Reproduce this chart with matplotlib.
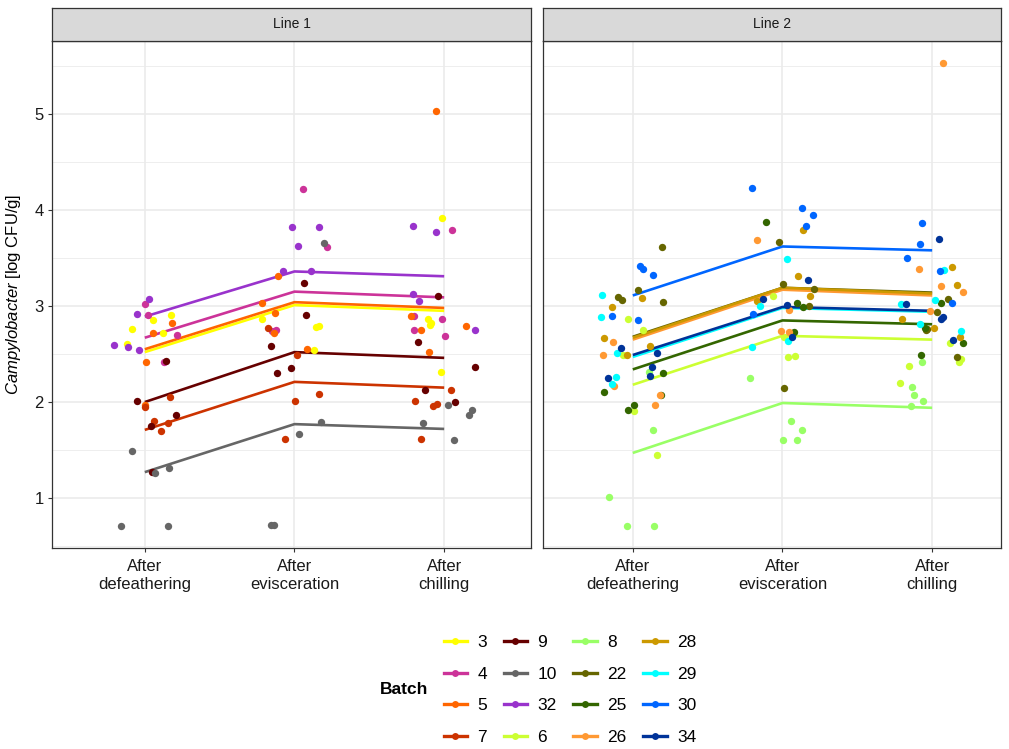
import matplotlib
matplotlib.use("Agg")
import matplotlib.pyplot as plt
from matplotlib.lines import Line2D
import numpy as np

plt.rcParams["font.family"] = ["Liberation Sans", "DejaVu Sans"]
plt.rcParams["mathtext.fontset"] = "custom"
plt.rcParams["mathtext.it"] = "Liberation Sans:italic"
plt.rcParams["mathtext.rm"] = "Liberation Sans"

stages = ["After\ndefeathering", "After\nevisceration", "After\nchilling"]
panels = ["Line 1", "Line 2"]

batches_line1 = ["3", "4", "5", "7", "9", "10", "32"]
batches_line2 = ["6", "8", "22", "25", "26", "28", "29", "30", "34"]
legend_order = ["3", "4", "5", "7", "9", "10", "32", "6",
                "8", "22", "25", "26", "28", "29", "30", "34"]

# fitted values per batch (stage 1, 2, 3)
fit_line1 = {
    "3": [2.52, 3.01, 2.95],
    "4": [2.67, 3.15, 3.09],
    "5": [2.55, 3.04, 2.98],
    "7": [1.71, 2.21, 2.15],
    "9": [2.00, 2.52, 2.46],
    "10": [1.27, 1.77, 1.72],
    "32": [2.89, 3.36, 3.31],
}
fit_line2 = {
    "6": [2.18, 2.69, 2.65],
    "8": [1.47, 1.99, 1.94],
    "22": [2.68, 3.19, 3.14],
    "25": [2.34, 2.85, 2.81],
    "26": [2.65, 3.17, 3.11],
    "28": [2.67, 3.19, 3.13],
    "29": [2.47, 2.98, 2.94],
    "30": [3.11, 3.62, 3.58],
    "34": [2.49, 2.99, 2.95],
}

# observed log CFU/g per batch, one list per stage
obs_line1 = {
    "3": [[2.85, 2.91, 2.72, 2.60, 2.76], [2.79, 2.87, 2.78, 2.54], [3.92, 2.82, 2.80, 2.87, 2.31]],
    "4": [[3.02, 2.91, 2.70, 2.42], [4.22, 3.61, 2.75, 2.74], [3.79, 2.90, 2.75, 2.69, 2.86]],
    "5": [[2.82, 2.72, 2.42, 1.97], [3.31, 3.03, 2.72, 2.55, 2.93], [5.03, 2.90, 2.79, 2.75, 2.52]],
    "7": [[2.05, 1.95, 1.78, 1.80, 1.70], [2.77, 2.49, 2.01, 2.08, 1.61], [2.13, 2.01, 1.98, 1.96, 1.61]],
    "9": [[2.43, 2.01, 1.86, 1.75, 1.27], [3.24, 2.91, 2.58, 2.35, 2.30], [3.10, 2.63, 2.36, 2.13, 2.00]],
    "10": [[1.49, 1.31, 1.26, 0.71, 0.71], [3.66, 1.79, 1.67, 0.72, 0.72], [1.92, 1.97, 1.78, 1.87, 1.60]],
    "32": [[3.07, 2.92, 2.54, 2.57, 2.59], [3.82, 3.82, 3.62, 3.36, 3.36], [3.83, 3.77, 3.13, 3.05, 2.75]],
}
obs_line2 = {
    "6": [[2.75, 2.86, 1.91, 1.45, 2.49], [2.47, 2.48, 3.10, 2.68], [2.62, 2.42, 2.38, 2.45, 2.20]],
    "8": [[2.31, 1.71, 1.01, 0.71, 0.71], [2.25, 1.80, 1.71, 1.60, 1.60], [2.07, 2.16, 2.01, 1.96, 2.42]],
    "22": [[3.61, 3.17, 3.06, 3.09, 3.04], [3.67, 3.18, 3.23, 2.15, 3.00], [3.07, 2.94, 2.76, 2.47, 2.75]],
    "25": [[2.07, 2.10, 1.92, 1.97, 2.30], [3.88, 2.99, 2.73, 3.03], [3.03, 2.62, 2.49, 2.77]],
    "26": [[2.63, 2.49, 2.17, 2.07, 1.97], [3.69, 2.73, 2.74, 2.96], [5.53, 3.39, 3.15, 2.95, 3.21]],
    "28": [[3.08, 2.99, 2.67, 2.49, 2.58], [3.79, 3.31, 3.05, 3.10], [3.41, 3.22, 2.77, 2.68, 2.86]],
    "29": [[3.11, 2.89, 2.51, 2.26, 2.19], [3.49, 2.57, 2.64, 3.00], [3.37, 3.02, 2.81, 2.74, 3.06]],
    "30": [[3.32, 3.39, 3.42, 2.90, 2.85], [4.23, 4.02, 3.95, 3.83, 2.92], [3.86, 3.65, 3.50, 3.36, 3.03]],
    "34": [[2.56, 2.51, 2.36, 2.25, 2.27], [3.27, 3.07, 3.01, 2.68], [3.70, 3.02, 2.89, 2.86, 2.65]],
}

colors = {
    "3": "#FFFF00", "4": "#CC3399", "5": "#FF6600", "7": "#CC3300",
    "9": "#660000", "10": "#666666", "32": "#9933CC",
    "6": "#CCFF33", "8": "#99FF66", "22": "#666600", "25": "#336600",
    "26": "#FF9933", "28": "#CC9900", "29": "#00FFFF", "30": "#0066FF",
    "34": "#003399",
}

W, H = 1009, 749
fig = plt.figure(figsize=(W / 100, H / 100), dpi=100)
rng = np.random.default_rng(7)


def px_axes(x0, y0, x1, y1):
    return fig.add_axes([x0 / W, 1 - y1 / H, (x1 - x0) / W, (y1 - y0) / H])


def draw_panel(ax, batches, fits, obs, xlim):
    xs = np.arange(1, 4)
    for b in batches:
        ax.plot(xs, fits[b], color=colors[b], lw=1.9, zorder=2, solid_capstyle="butt")
    for b in batches:
        for i, vals in enumerate(obs[b]):
            jit = rng.uniform(-0.22, 0.22, len(vals))
            ax.scatter(xs[i] + jit, vals, s=28, color=colors[b], linewidths=0, zorder=3)
    ax.set_xlim(*xlim)
    ax.set_ylim(0.48, 5.76)
    ax.set_xticks(xs)
    ax.set_xticklabels(stages, fontsize=12, color="#1A1A1A", linespacing=1.2)
    ax.set_yticks([1, 2, 3, 4, 5])
    ax.set_yticks([0.5, 1.5, 2.5, 3.5, 4.5, 5.5], minor=True)
    ax.grid(True, which="major", color="#EBEBEB", lw=1.2)
    ax.grid(True, which="minor", axis="y", color="#EBEBEB", lw=0.6)
    ax.set_axisbelow(True)
    for s in ax.spines.values():
        s.set_color("#333333")
        s.set_linewidth(0.9)
    ax.tick_params(axis="both", which="major", length=3, color="#333333", width=0.8, pad=3)
    ax.tick_params(axis="x", which="major", pad=5)
    ax.tick_params(axis="y", which="minor", length=0)


ax1 = px_axes(52, 41, 531, 548)
ax2 = px_axes(543, 41, 1001, 548)
draw_panel(ax1, batches_line1, fit_line1, obs_line1, (0.38, 3.58))
draw_panel(ax2, batches_line2, fit_line2, obs_line2, (0.40, 3.46))
ax1.set_yticklabels(["1", "2", "3", "4", "5"], fontsize=12, color="#1A1A1A")
ax2.tick_params(axis="y", left=False, labelleft=False)
ax1.set_ylabel(r"$\it{Campylobacter}$ [log CFU/g]", fontsize=12, labelpad=8)

# facet strips
for (x0, x1), name in zip([(52, 531), (543, 1001)], panels):
    st = px_axes(x0, 8, x1, 41)
    st.set_facecolor("#D9D9D9")
    st.set_xticks([])
    st.set_yticks([])
    for s in st.spines.values():
        s.set_color("#333333")
        s.set_linewidth(0.9)
    st.text(0.5, 0.5, name, ha="center", va="center", fontsize=10, color="#1A1A1A",
            transform=st.transAxes)

handles = [Line2D([0], [0], color=colors[b], lw=2.4, marker="o", markersize=5,
                  markeredgewidth=0) for b in legend_order]
fig.legend(handles, legend_order, ncol=4, loc="center", bbox_to_anchor=(570 / W, 1 - 690 / H),
           frameon=False, fontsize=12.5, handlelength=1.35, handletextpad=0.6,
           columnspacing=0.95, labelspacing=0.95)
fig.text(404 / W, 1 - 690 / H, "Batch", ha="center", va="center", fontsize=12.5,
         fontweight="bold")

fig.savefig("out.png", dpi=100, facecolor="white")
